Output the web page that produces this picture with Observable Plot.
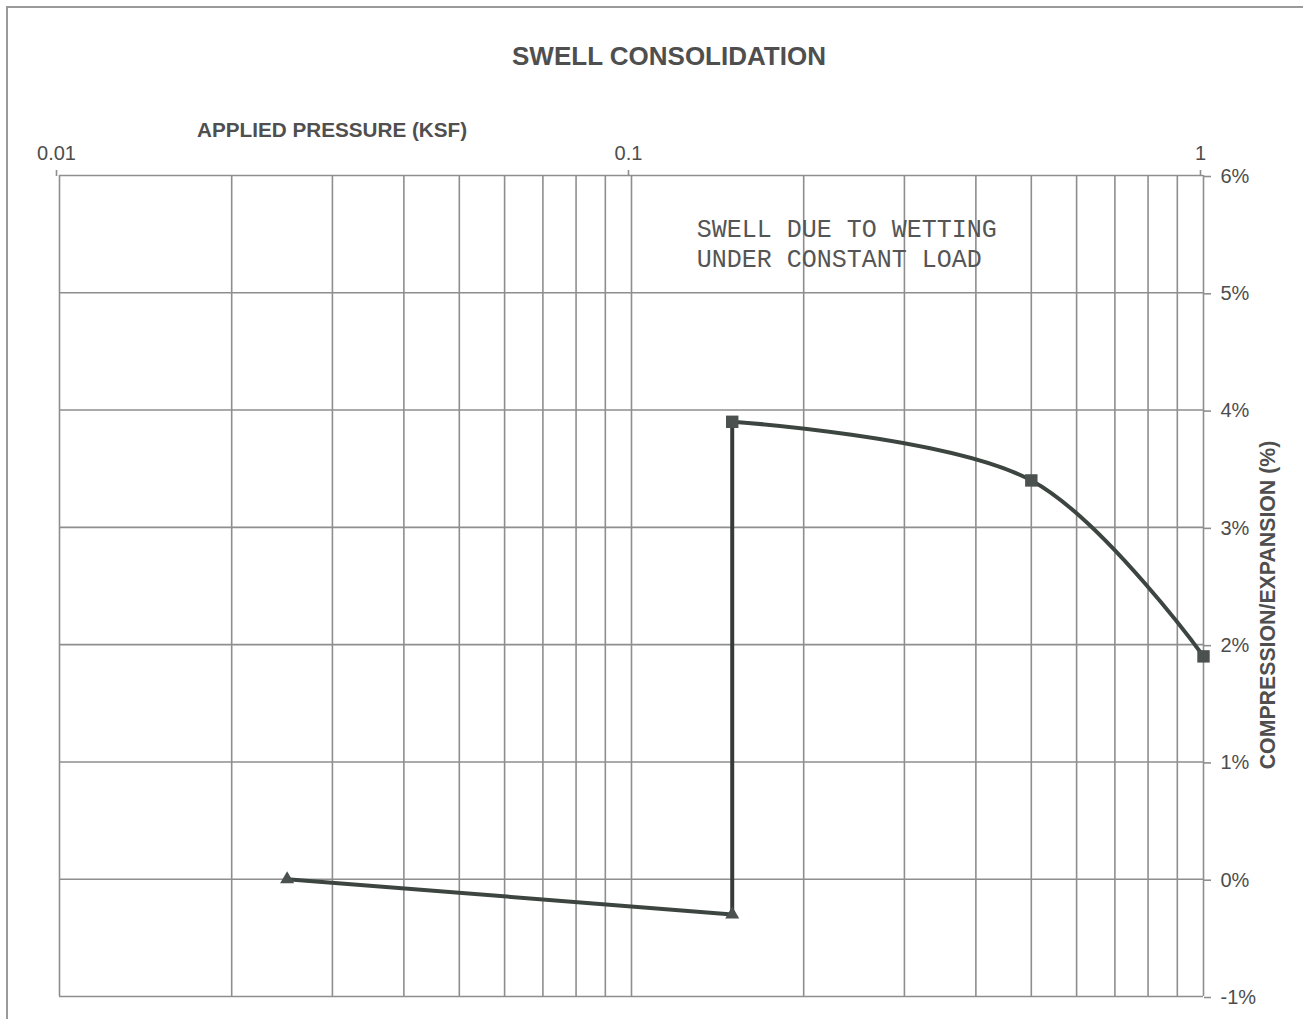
<!DOCTYPE html>
<html>
<head>
<meta charset="utf-8">
<script src="https://cdn.jsdelivr.net/npm/d3@7"></script>
<script src="https://cdn.jsdelivr.net/npm/@observablehq/plot@0.6"></script>
<style>
  html, body { margin: 0; padding: 0; background: #fff; overflow: hidden; }
  #page { position: relative; width: 1303px; height: 1019px; overflow: hidden; font-family: "Liberation Sans", Arial, sans-serif; color: #4d4d4d; }
  #frame { position: absolute; left: 6px; top: 6px; width: 1400px; height: 1100px; border-left: 2px solid #9a9a9a; border-top: 2px solid #9a9a9a; }
  #title { position: absolute; left: 0; width: 1338px; top: 41px; text-align: center; font-weight: bold; font-size: 26px; color: #4f4f4f; }
  #xlabel { position: absolute; left: 197px; top: 118px; font-weight: bold; font-size: 20.7px; color: #4f4f4f; white-space: nowrap; }
  #ylabel { position: absolute; left: 1268px; top: 605px; transform: translate(-50%, -50%) rotate(-90deg); font-weight: bold; font-size: 21.3px; color: #4f4f4f; white-space: nowrap; }
  #chart { position: absolute; left: 0; top: 100px; }
</style>
</head>
<body>
<div id="page">
  <div id="frame"></div>
  <div id="title">SWELL CONSOLIDATION</div>
  <div id="xlabel">APPLIED PRESSURE (KSF)</div>
  <div id="ylabel">COMPRESSION/EXPANSION (%)</div>
  <div id="chart"></div>
</div>
<script>
// Loading stage before wetting (triangles)
const loadPressure = [0.025, 0.15];
const loadStrain = [0, -0.3];

// Wetting under constant load at 0.15 ksf
const swellPressure = [0.15, 0.15];
const swellStrain = [-0.3, 3.9];

// Loading after wetting (squares)
const wetPressure = [0.15, 0.5, 1];
const wetStrain = [3.9, 3.4, 1.9];

// Axis ticks and grid
const xTickValues = [0.01, 0.1, 1];
const xTickLabels = ["0.01", "0.1", "1"];
const xGridValues = [0.01, 0.02, 0.03, 0.04, 0.05, 0.06, 0.07, 0.08, 0.09,
                     0.1, 0.2, 0.3, 0.4, 0.5, 0.6, 0.7, 0.8, 0.9, 1];
const yTickValues = [-1, 0, 1, 2, 3, 4, 5, 6];

// Annotation
const notes = [{p: 0.13, v: 5.43, text: "SWELL DUE TO WETTING\nUNDER CONSTANT LOAD"}];

const loadData = loadPressure.map((p, i) => ({p, v: loadStrain[i]}));
const swellData = swellPressure.map((p, i) => ({p, v: swellStrain[i]}));
const wetData = wetPressure.map((p, i) => ({p, v: wetStrain[i]}));

const gridColor = "#8e8e8e";
const lineColor = "#3d4541";
const markColor = "#4b514e";

const chart = Plot.plot({
  width: 1303,
  height: 916,
  marginLeft: 59,
  marginRight: 100,
  marginTop: 75,
  marginBottom: 20,
  style: {fontFamily: "'Liberation Sans', Arial, sans-serif", fontSize: "20px", color: "#4d4d4d", background: "transparent"},
  x: {type: "log", domain: [0.01, 1]},
  y: {domain: [-1, 6]},
  marks: [
    Plot.gridX(xGridValues, {stroke: gridColor, strokeOpacity: 1, strokeWidth: 1.6}),
    Plot.gridY(yTickValues, {stroke: gridColor, strokeOpacity: 1, strokeWidth: 1.6}),
    Plot.axisX({
      anchor: "top", ticks: xTickValues, tickSize: 6, tickPadding: 10,
      tickFormat: (d) => xTickLabels[xTickValues.indexOf(d)], label: null,
      stroke: gridColor, strokeWidth: 1.6, dx: -3
    }),
    Plot.axisY({
      anchor: "right", ticks: yTickValues, tickSize: 7, tickPadding: 10,
      tickFormat: (d) => `${d}%`, label: null, stroke: gridColor, strokeWidth: 1.6, dy: 1
    }),
    Plot.text(notes, {
      x: "p", y: "v", text: "text", textAnchor: "start", lineAnchor: "middle",
      fontFamily: "'Liberation Mono', 'Courier New', monospace", fontSize: 25,
      lineHeight: 1.2, fill: "#555"
    }),
    Plot.line(loadData, {x: "p", y: "v", stroke: lineColor, strokeWidth: 4}),
    Plot.line(swellData, {x: "p", y: "v", stroke: "#363a38", strokeWidth: 4}),
    Plot.line(wetData, {x: "p", y: "v", stroke: lineColor, strokeWidth: 4, curve: "catmull-rom"}),
    Plot.dot(loadData, {x: "p", y: "v", symbol: "triangle", r: 5.2, fill: markColor, stroke: "none"}),
    Plot.dot(wetData, {x: "p", y: "v", symbol: "square", r: 7, fill: markColor, stroke: "none"})
  ]
});
document.getElementById("chart").appendChild(chart);
</script>
</body>
</html>
